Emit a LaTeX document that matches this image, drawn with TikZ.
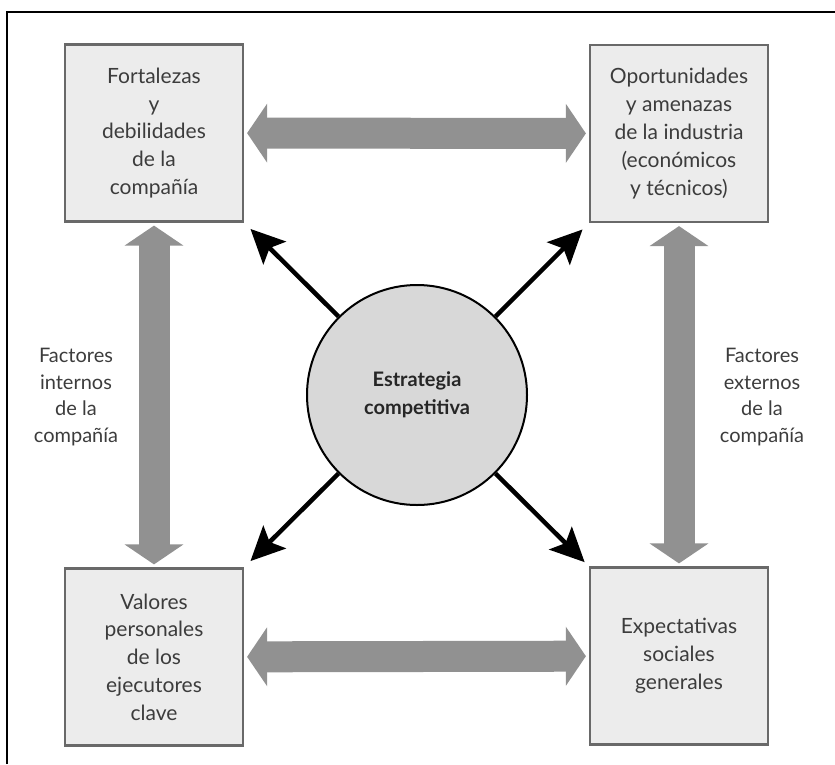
\documentclass[tikz,border=0pt]{standalone}
\usepackage{fontspec}
\setmainfont{Lato}
\usetikzlibrary{arrows.meta}
\definecolor{boxfill}{RGB}{236,236,236}
\definecolor{boxline}{RGB}{105,105,105}
\definecolor{bandgray}{RGB}{145,145,145}
\definecolor{hubfill}{RGB}{216,216,216}
\definecolor{inkgray}{RGB}{60,60,60}
\tikzset{
  factorbox/.style={draw=boxline, line width=2.2pt, fill=boxfill,
    minimum width=178pt, minimum height=177pt, inner sep=0pt,
    align=center, text=inkgray, font=\fontsize{21}{27.8}\selectfont},
  hub/.style={circle, draw=black, line width=2pt, fill=hubfill,
    minimum size=220pt, inner sep=0pt, align=center,
    font=\bfseries\fontsize{20}{28}\selectfont, text=black!85},
  sidelabel/.style={align=center, text=inkgray,
    font=\fontsize{20}{26.8}\selectfont},
  bandarrow/.style={draw=bandgray, line width=31pt,
    {Triangle[length=20pt,width=58pt]}-{Triangle[length=20pt,width=58pt]},
    shorten <=3pt, shorten >=3pt},
  pointer/.style={draw=black, line width=4.5pt,
    -{Stealth[length=34pt,width=32pt,inset=7pt]}}
}
\begin{document}
\begin{tikzpicture}[x=1pt,y=-1pt]
  \useasboundingbox (0,0) rectangle (835,764);
  % frame (top and left rules)
  \draw[line width=1.8pt] (7,764) -- (7,12) -- (835,12);

  % the four factor boxes
  \node[factorbox] (tl) at (154,133) {Fortalezas\\y\\debilidades\\de la\\compañía};
  \node[factorbox] (tr) at (679,133.5) {Oportunidades\\y amenazas\\de la industria\\(económicos\\y técnicos)};
  \node[factorbox] (bl) at (154,657) {Valores\\personales\\de los\\ejecutores\\clave};
  \node[factorbox] (br) at (679,656) {Expectativas\\sociales\\generales};

  % central strategy
  \node[hub] (hub) at (417,395) {Estrategia\\competitiva};

  % side labels
  \node[sidelabel] (intl) at (76,397) {Factores\\internos\\de la\\compañía};
  \node[sidelabel] (extl) at (762,397) {Factores\\externos\\de la\\compañía};

  % broad two-way bands between boxes
  \draw[bandarrow] (tl) -- (tr);
  \draw[bandarrow] (bl) -- (br);
  \draw[bandarrow] (tl) -- (bl);
  \draw[bandarrow] (tr) -- (br);

  % pointers from the hub to each box
  \draw[pointer, shorten >=9pt] (hub.135) -- (tl.south east);
  \draw[pointer, shorten >=9pt] (hub.45) -- (tr.south west);
  \draw[pointer, shorten >=9pt] (hub.225) -- (bl.north east);
  \draw[pointer, shorten >=6pt] (hub.-45) -- (br.north west);
\end{tikzpicture}
\end{document}
